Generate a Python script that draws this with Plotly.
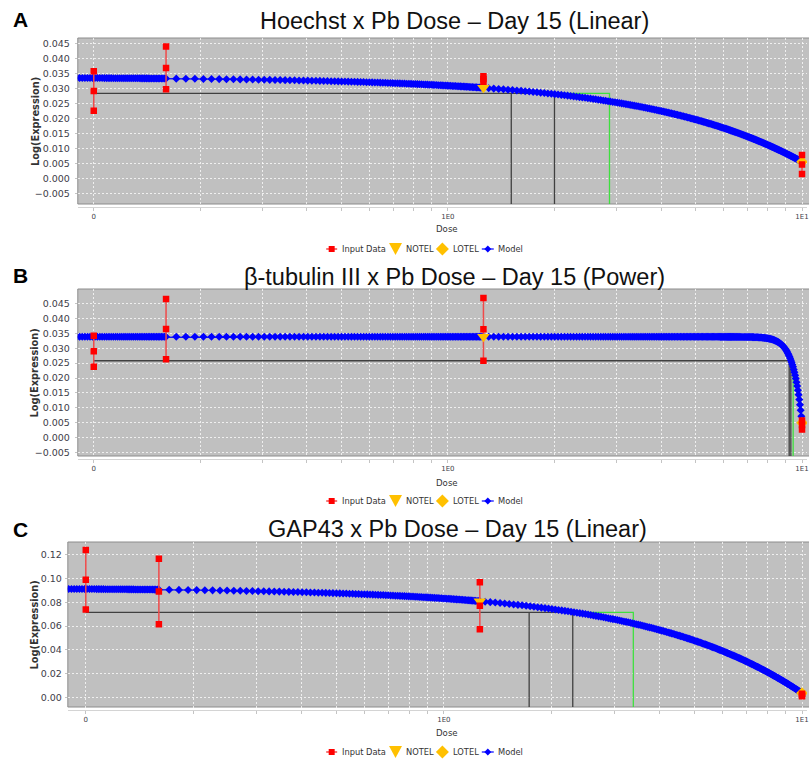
import numpy as np
import plotly.graph_objects as go

W, H = 809, 763

# ---- shared dose design (dose 0 is placed at the 0.1 position of the log axis) ----
doses = [0, 0.16, 1.26, 10]
zero_position = 0.1
notel_dose = 1.26
lotel_dose = 10
x_tick_vals = [0.1 * k for k in range(1, 10)] + list(range(1, 10)) + [10]
x_tick_text = ["0" if v == 0.1 else "1E0" if v == 1 else "1E1" if v == 10 else "" for v in x_tick_vals]

# ---- A: Hoechst, linear model ----
hoechst_mean = [0.0291, 0.0368, 0.0331, 0.0046]
hoechst_err = [0.0066, 0.0071, 0.0009, 0.0032]
hoechst_params = {"intercept": 0.0337, "slope": -0.00282}
hoechst_bmr = 0.0283
hoechst_bmdl, hoechst_bmd, hoechst_bmdu = 1.51, 2.0, 2.86

# ---- B: beta-tubulin III, power model ----
tubulin_mean = [0.0290, 0.0364, 0.0363, 0.0043]
tubulin_err = [0.0052, 0.0101, 0.0105, 0.0015]
tubulin_params = {"control": 0.0338, "beta": -2.88e-20, "power": 18}
tubulin_bmr = 0.0258
tubulin_bmdl, tubulin_bmd, tubulin_bmdu = 9.2, 9.3, 9.44

# ---- C: GAP43, linear model ----
gap43_mean = [0.0988, 0.0889, 0.0770, 0.0023]
gap43_err = [0.0249, 0.0274, 0.0197, 0.0010]
gap43_params = {"intercept": 0.0919, "slope": -0.0088}
gap43_bmr = 0.0715
gap43_bmdl, gap43_bmd, gap43_bmdu = 1.73, 2.29, 3.38


def linear_model(p):
    return lambda d: p["intercept"] + p["slope"] * np.asarray(d, dtype=float)


def power_model(p):
    return lambda d: p["control"] + p["beta"] * np.asarray(d, dtype=float) ** p["power"]


panels = [
    dict(letter="A", title="Hoechst x Pb Dose \u2013 Day 15 (Linear)",
         mean=hoechst_mean, err=hoechst_err, model=linear_model(hoechst_params),
         bmr=hoechst_bmr, bmdl=hoechst_bmdl, bmd=hoechst_bmd, bmdu=hoechst_bmdu,
         left=78, top=38, gray_bottom=204, axis_px=207, one_px=449, decade=355,
         zero_px=178.3, scale=3000.0, yticks=np.round(np.arange(-0.005, 0.0451, 0.005), 3), yfmt=".3f",
         title_x=456, title_y=21, letter_y=19, tick_std=3, dose_y=229, legend_y=249),
    dict(letter="B", title="\u03b2-tubulin III x Pb Dose \u2013 Day 15 (Power)",
         mean=tubulin_mean, err=tubulin_err, model=power_model(tubulin_params),
         bmr=tubulin_bmr, bmdl=tubulin_bmdl, bmd=tubulin_bmd, bmdu=tubulin_bmdu,
         left=78, top=289, gray_bottom=456, axis_px=459, one_px=449, decade=355,
         zero_px=437.8, scale=2987.0, yticks=np.round(np.arange(-0.005, 0.0451, 0.005), 3), yfmt=".3f",
         title_x=456, title_y=277, letter_y=276, tick_std=3, dose_y=483, legend_y=501),
    dict(letter="C", title="GAP43 x Pb Dose \u2013 Day 15 (Linear)",
         mean=gap43_mean, err=gap43_err, model=linear_model(gap43_params),
         bmr=gap43_bmr, bmdl=gap43_bmdl, bmd=gap43_bmd, bmdu=gap43_bmdu,
         left=68, top=542, gray_bottom=707, axis_px=710, one_px=445, decade=359,
         zero_px=697.7, scale=1194.0, yticks=np.round(np.arange(0, 0.121, 0.02), 2), yfmt=".2f",
         title_x=459, title_y=529, letter_y=529, tick_std=1, dose_y=733, legend_y=752),
]


def px_x(p):
    return p / W


def px_y(p):
    return 1 - p / H


fig = go.Figure()
layout = dict(width=W, height=H, autosize=False, margin=dict(l=0, r=0, t=0, b=0, pad=0),
              paper_bgcolor="white", plot_bgcolor="white", showlegend=False,
              shapes=[], annotations=[])

RED, GOLD, BLUE = "#ff0000", "#ffc000", "#0000ff"
GRID = "rgba(255,255,255,0.75)"
TICK_FONT = dict(family="DejaVu Sans", size=9.5, color="#404048")

for i, p in enumerate(panels, start=1):
    xa, ya = f"x{i}", f"y{i}"
    xname = "xaxis" if i == 1 else f"xaxis{i}"
    yname = "yaxis" if i == 1 else f"yaxis{i}"

    # axis ranges from the pixel geometry of each panel
    xlo = (p["left"] - p["one_px"]) / p["decade"]
    xhi = (W - p["one_px"]) / p["decade"]
    ybot = (p["zero_px"] - p["axis_px"]) / p["scale"]
    ytop = (p["zero_px"] - p["top"]) / p["scale"]
    ygray = (p["zero_px"] - p["gray_bottom"]) / p["scale"]

    layout[xname] = dict(type="log", domain=[px_x(p["left"]), 1], range=[xlo, xhi], anchor=ya,
                         tickmode="array", tickvals=x_tick_vals, ticktext=x_tick_text,
                         ticklabeloverflow="allow",
                         showgrid=True, gridcolor=GRID, griddash="2px,2px", gridwidth=1,
                         ticks="outside", ticklen=3, tickcolor="#c4c4c4", showline=True,
                         linecolor="#d4d4d4", linewidth=1, zeroline=False,
                         tickfont=dict(family="DejaVu Sans", size=7, color="#404048"))
    layout[yname] = dict(domain=[px_y(p["axis_px"]), px_y(p["top"])], range=[ybot, ytop], anchor=xa,
                         tickmode="array", tickvals=list(p["yticks"]), tickformat=p["yfmt"],
                         showgrid=True, gridcolor=GRID, griddash="2px,2px", gridwidth=1,
                         ticks="outside", ticklen=2, tickcolor="#c4c4c4", showline=False, zeroline=False,
                         ticklabelstandoff=p["tick_std"], tickfont=TICK_FONT)

    # plot background panel with border
    layout["shapes"].append(dict(type="rect", xref="paper", yref="paper", layer="below",
                                 x0=px_x(p["left"]), x1=1.05, y0=px_y(p["gray_bottom"]), y1=px_y(p["top"]),
                                 fillcolor="#c0c0c0", line=dict(color="#8c8c8c", width=1)))

    plot_x = [zero_position if d == 0 else d for d in doses]

    # benchmark dose lines
    fig.add_trace(go.Scatter(x=[zero_position, p["bmd"], None, p["bmdl"], p["bmdl"], None, p["bmd"], p["bmd"]],
                             y=[p["bmr"], p["bmr"], None, p["bmr"], ygray, None, p["bmr"], ygray],
                             mode="lines", line=dict(color="#404040", width=1.3),
                             xaxis=xa, yaxis=ya, hoverinfo="skip"))
    fig.add_trace(go.Scatter(x=[p["bmd"], p["bmdu"], p["bmdu"]], y=[p["bmr"], p["bmr"], ygray],
                             mode="lines", line=dict(color="#3ee03e", width=1.3),
                             xaxis=xa, yaxis=ya, hoverinfo="skip"))

    # fitted model, sampled between consecutive doses
    seg_pts = [100, 100, 200]
    md = np.concatenate([np.linspace(doses[k], doses[k + 1], n + 1)[1:] for k, n in enumerate(seg_pts)])
    fig.add_trace(go.Scatter(x=md, y=p["model"](md), mode="lines+markers", name="Model",
                             line=dict(color=BLUE, width=1.2),
                             marker=dict(symbol="diamond", size=6.2, color=BLUE),
                             xaxis=xa, yaxis=ya))

    # input data: mean with +/- error bars (bars first, squares drawn last)
    ex, ey = [], []
    for xv, m, e in zip(plot_x, p["mean"], p["err"]):
        ex += [xv, xv, xv, None]
        ey += [m - e, m, m + e, None]
    fig.add_trace(go.Scatter(x=ex, y=ey, mode="lines", name="Input Data",
                             line=dict(color="#f04a4a", width=1.5),
                             xaxis=xa, yaxis=ya, hoverinfo="skip"))

    # NOTEL / LOTEL on the model curve
    fig.add_trace(go.Scatter(x=[notel_dose], y=p["model"]([notel_dose]), mode="markers", name="NOTEL",
                             marker=dict(symbol="triangle-down", size=11, color=GOLD),
                             xaxis=xa, yaxis=ya))
    fig.add_trace(go.Scatter(x=[lotel_dose], y=p["model"]([lotel_dose]), mode="markers", name="LOTEL",
                             marker=dict(symbol="diamond", size=9, color=GOLD),
                             xaxis=xa, yaxis=ya))

    fig.add_trace(go.Scatter(x=ex, y=ey, mode="markers", name="Input Data",
                             marker=dict(symbol="square", size=6.5, color=RED),
                             xaxis=xa, yaxis=ya))

    # texts
    layout["annotations"] += [
        dict(text=p["letter"], x=px_x(21), y=px_y(p["letter_y"]), xref="paper", yref="paper",
             showarrow=False, xanchor="center", yanchor="middle",
             font=dict(family="Liberation Sans", size=21, color="black", weight="bold")),
        dict(text=p["title"], x=px_x(p["title_x"]), y=px_y(p["title_y"]), xref="paper", yref="paper",
             showarrow=False, xanchor="center", yanchor="middle",
             font=dict(family="Liberation Sans", size=23.5, color="#111111")),
        dict(text="Log(Expression)", x=px_x(35), y=px_y((p["top"] + p["gray_bottom"]) / 2),
             xref="paper", yref="paper", showarrow=False, textangle=-90,
             xanchor="center", yanchor="middle",
             font=dict(family="DejaVu Sans", size=9.8, color="#333333", weight="bold")),
        dict(text="Dose", x=px_x(448.5), y=px_y(p["dose_y"]), xref="paper", yref="paper",
             showarrow=False, xanchor="center", yanchor="middle",
             font=dict(family="DejaVu Sans", size=8.6, color="#333333")),
    ]

    # legend row
    ly = p["legend_y"]
    leg_font = dict(family="DejaVu Sans", size=8.3, color="#333333")
    for label, lx in [("Input Data", 341), ("NOTEL", 405), ("LOTEL", 452), ("Model", 497)]:
        layout["annotations"].append(dict(text=label, x=px_x(lx), y=px_y(ly), xref="paper", yref="paper",
                                          showarrow=False, xanchor="left", yanchor="middle", font=leg_font))

    def path(points):
        return "M " + " L ".join(f"{px_x(a):.5f},{px_y(b):.5f}" for a, b in points) + " Z"

    layout["shapes"] += [
        dict(type="line", xref="paper", yref="paper", x0=px_x(327), x1=px_x(338), y0=px_y(ly), y1=px_y(ly),
             line=dict(color="#f04a4a", width=1.5)),
        dict(type="rect", xref="paper", yref="paper", x0=px_x(329.5), x1=px_x(335.5),
             y0=px_y(ly + 3), y1=px_y(ly - 3), fillcolor=RED, line=dict(width=0)),
        dict(type="path", xref="paper", yref="paper",
             path=path([(390, ly - 6), (403, ly - 6), (396.5, ly + 6)]), fillcolor=GOLD, line=dict(width=0)),
        dict(type="path", xref="paper", yref="paper",
             path=path([(443.5, ly - 6.5), (450, ly), (443.5, ly + 6.5), (437, ly)]),
             fillcolor=GOLD, line=dict(width=0)),
        dict(type="line", xref="paper", yref="paper", x0=px_x(483), x1=px_x(495), y0=px_y(ly), y1=px_y(ly),
             line=dict(color=BLUE, width=1.2)),
        dict(type="path", xref="paper", yref="paper",
             path=path([(489, ly - 3.5), (492.5, ly), (489, ly + 3.5), (485.5, ly)]),
             fillcolor=BLUE, line=dict(width=0)),
    ]

fig.update_layout(**layout)
fig.write_html("out.html")
